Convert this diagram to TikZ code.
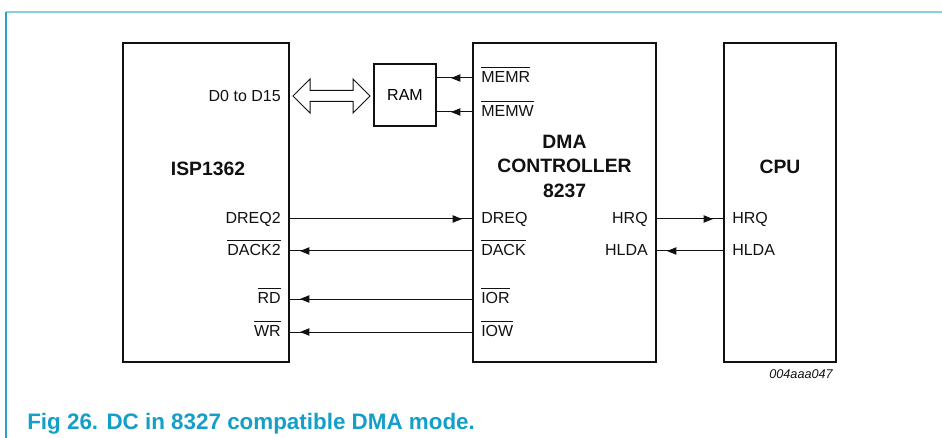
\documentclass[tikz,border=0pt]{standalone}
\usepackage{fontspec}
\setmainfont{Liberation Sans}
\usetikzlibrary{arrows.meta, positioning, calc, decorations.markings}
\definecolor{frameTop}{HTML}{8CCFE4}
\definecolor{frameLeft}{HTML}{2A9FC9}
\definecolor{capBlue}{HTML}{149FC8}
\definecolor{ink}{HTML}{111111}
\newcommand{\activelow}[1]{\leavevmode\vbox{\hrule height 0.7pt\kern 3pt\hbox{#1}}}
\tikzset{
  x=0.75pt, y=-0.75pt,
  font=\fontsize{12}{14}\selectfont,
  chip/.style={rectangle, draw=ink, line width=1.5pt, fill=white, inner sep=0pt},
  chiptitle/.style={font=\fontsize{14.5}{18.4}\selectfont\bfseries, text=ink, align=center},
  pinL/.style={anchor=west, inner sep=0pt, text height=0.9em, text depth=0.184em, text=ink},
  pinR/.style={anchor=east, inner sep=0pt, text height=0.9em, text depth=0.184em, text=ink},
  sig/.style={draw=ink, line width=0.75pt, postaction={decorate},
              decoration={markings, mark=at position -#1 with {\arrow{Triangle[length=7pt, width=5.5pt]}}}},
  sig/.default=7.5pt,
  bus/.style={draw=ink, fill=white, line width=0.75pt, line join=miter},
  caption/.style={font=\fontsize{16.8}{20}\selectfont\bfseries, text=capBlue, anchor=base west, inner sep=0pt},
  figcode/.style={font=\fontsize{9.5}{11}\selectfont\itshape, text=ink, anchor=base east, inner sep=0pt},
}

\begin{document}
\begin{tikzpicture}
  \useasboundingbox (0,0) rectangle (942,438);

  % --- page frame ---
  \draw[frameTop, line width=1.2pt] (6,12) -- (942,12);
  \draw[frameLeft, line width=1pt] (6,12) -- (6,438);

  % --- blocks ---
  \node[chip, minimum width=124.5pt, minimum height=239.25pt] (isp) at (206,202.5) {};
  \node[chip, minimum width=137.25pt, minimum height=239.25pt] (dma) at (564.5,202.5) {};
  \node[chip, minimum width=84pt, minimum height=239.25pt] (cpu) at (780,202.5) {};
  \node[chip, minimum width=46.5pt, minimum height=46.5pt] (ram) at (405,95) {RAM};

  \node[chiptitle] (isptitle) at (208,169) {ISP1362};
  \node[chiptitle] (dmatitle) at (564.5,166) {DMA\\CONTROLLER\\8237};
  \node[chiptitle] (cputitle) at (780,167) {CPU};

  % --- pin labels ---
  \node[pinR] (data)    at (281,97)  {D0 to D15};
  \node[pinR] (dreqtwo) at (281,219) {DREQ2};
  \node[pinR] (dacktwo) at (281,251) {\activelow{DACK2}};
  \node[pinR] (rd)      at (281,299) {\activelow{RD}};
  \node[pinR] (wr)      at (281,332) {\activelow{WR}};

  \node[pinL] (memr) at (481,78)  {\activelow{MEMR}};
  \node[pinL] (memw) at (481,112) {\activelow{MEMW}};
  \node[pinL] (dreq) at (481,219) {DREQ};
  \node[pinL] (dack) at (481,251) {\activelow{DACK}};
  \node[pinL] (ior)  at (481,299) {\activelow{IOR}};
  \node[pinL] (iow)  at (481,332) {\activelow{IOW}};
  \node[pinR] (hrqout)  at (648,219) {HRQ};
  \node[pinR] (hldain)  at (648,251) {HLDA};

  \node[pinL] (hrq)  at (732,219) {HRQ};
  \node[pinL] (hlda) at (732,251) {HLDA};

  % --- data bus (hollow double arrow ISP <-> RAM) ---
  \coordinate (busL) at ($(isp.east |- data)+(3,-1)$);
  \coordinate (busR) at ($(ram.west |- data)+(-3,-1)$);
  \draw[bus] (busL) -- ++(17,-17) -- ++(0,11.5) -- ($(busR)+(-17,-5.5)$) -- ++(0,-11.5)
    -- (busR) -- ++(-17,17) -- ++(0,-11.5) -- ($(busL)+(17,5.5)$) -- ++(0,11.5) -- cycle;

  % --- control signals ---
  \draw[sig=10.5pt] (dma.west |- memr) -- (ram.east |- memr);
  \draw[sig=10.5pt] (dma.west |- memw) -- (ram.east |- memw);
  \draw[sig] (isp.east |- dreqtwo) -- (dma.west |- dreqtwo);
  \draw[sig] (dma.west |- dacktwo) -- (isp.east |- dacktwo);
  \draw[sig] (dma.west |- rd) -- (isp.east |- rd);
  \draw[sig] (dma.west |- wr) -- (isp.east |- wr);
  \draw[sig] (dma.east |- hrq) -- (cpu.west |- hrq);
  \draw[sig] (cpu.west |- hlda) -- (dma.east |- hlda);

  % --- figure code and caption ---
  \node[figcode] (code) at (833,378) {004aaa047};
  \node[caption] (cap) at (27,429) {Fig 26. DC in 8327 compatible DMA mode.};
\end{tikzpicture}
\end{document}
